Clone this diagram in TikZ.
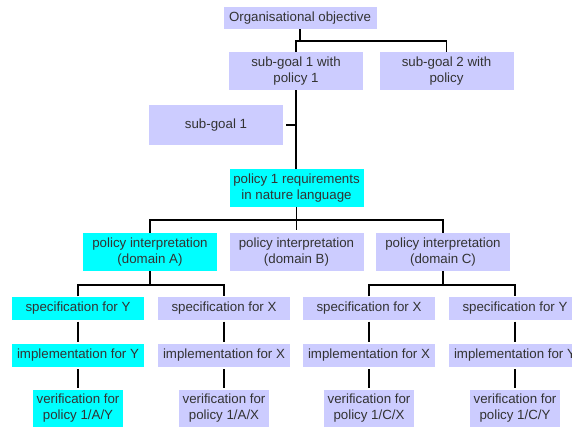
\documentclass[tikz,border=0pt]{standalone}
\usepackage{fontspec}
\setmainfont{Liberation Sans}

\definecolor{lavender}{HTML}{CCCCFF}
\definecolor{aqua}{HTML}{00FFFF}
\definecolor{txtgray}{HTML}{333333}

\begin{document}
\begin{tikzpicture}[x=1pt, y=-1pt,
  box/.style={fill=lavender, text=txtgray, inner sep=0pt, align=center,
    font=\fontsize{13.3}{16}\selectfont},
  hot/.style={box, fill=aqua},
  tall/.style={minimum width=134pt, minimum height=38pt},
  flat/.style={minimum width=132pt, minimum height=23pt},
  narrow/.style={minimum width=90pt, minimum height=37pt},
  link/.style={line width=1.6pt, black}]

  \useasboundingbox (0,0) rectangle (572,428);
  \clip (0,0) rectangle (572,428);

  % Objective and its two sub-goals.
  \node[box, minimum width=153pt, minimum height=22pt] (obj) at (300,18) {Organisational objective};
  \node[box, tall] (sgpol) at (296,71) {sub-goal 1 with\\policy 1};
  \node[box, tall] (sgtwo) at (446.5,71) {sub-goal 2 with\\policy};
  \node[box, tall, minimum height=40pt] (sgone) at (216,125) {sub-goal 1};
  \node[hot, tall] (req) at (296.5,188) {policy 1 requirements\\in nature language};

  \coordinate (top bus) at (300,41);
  \draw[link] (obj.south) -- (top bus);
  \draw[link] (sgpol.north) |- (top bus) -| (sgtwo.north);
  \draw[link] (sgpol.south) -- (sgpol.south |- req.north);
  \draw[link, shorten <=3pt] (sgone.east) -- (sgone.east -| sgpol.south);

  % Interpretation per domain.
  \node[hot, tall] (domA) at (150,252) {policy interpretation\\(domain A)};
  \node[box, tall] (domB) at (296.5,252) {policy interpretation\\(domain B)};
  \node[box, tall] (domC) at (443,252) {policy interpretation\\(domain C)};

  \coordinate (mid bus) at (296.5,220);
  \draw[link, shorten >=3pt] (req.south) -- (domB.north);
  \draw[link] (domA.north) |- (mid bus) -| (domC.north);

  % Specification, implementation and verification chains.
  \foreach \col/\x/\kind/\dom/\sty in {YA/78/Y/A/hot, XA/224/X/A/box, XC/369/X/C/box, YC/515/Y/C/box} {
    \node[\sty, flat] (spec\col) at (\x,308) {specification for \kind};
    \node[\sty, flat] (impl\col) at (\x,355.5) {implementation for \kind};
    \node[\sty, narrow] (ver\col) at (\x,408.5) {verification for\\policy 1/\dom/\kind};
    \draw[link, shorten <=2pt, shorten >=2pt] (spec\col) -- (impl\col);
    \draw[link, shorten <=2pt, shorten >=2pt] (impl\col) -- (ver\col);
  }

  \coordinate (a bus) at (150,285);
  \coordinate (c bus) at (443,285);
  \draw[link] (domA.south) -- (a bus);
  \draw[link] (specYA.north) |- (a bus) -| (specXA.north);
  \draw[link] (domC.south) -- (c bus);
  \draw[link] (specXC.north) |- (c bus) -| (specYC.north);

\end{tikzpicture}
\end{document}
